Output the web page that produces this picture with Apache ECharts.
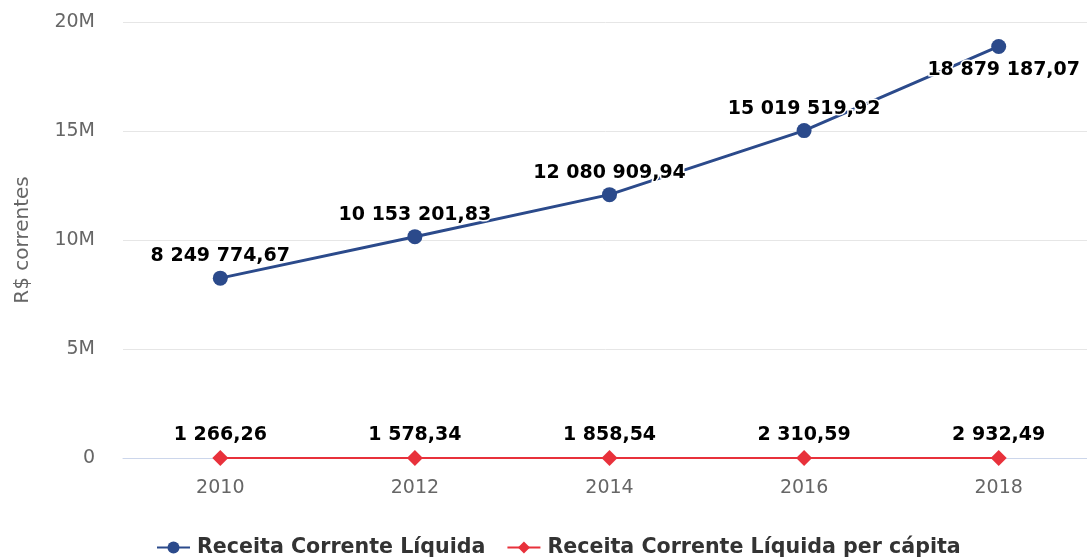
<!DOCTYPE html>
<html>
<head>
<meta charset="utf-8">
<script src="https://cdn.jsdelivr.net/npm/echarts@6/dist/echarts.min.js"></script>
<style>html,body{margin:0;padding:0;background:#fff}#c{width:1087px;height:558px}</style>
</head>
<body>
<div id="c"></div>
<script>
var categories = ['2010', '2012', '2014', '2016', '2018'];
var rclValues = [8249774.67, 10153201.83, 12080909.94, 15019519.92, 18879187.07];
var rclPerCapitaValues = [1266.26, 1578.34, 1858.54, 2310.59, 2932.49];
var seriesNames = ['Receita Corrente Líquida', 'Receita Corrente Líquida per cápita'];
var yTicks = { min: 0, max: 20000000, interval: 5000000 };
var yAxisTitle = 'R$ correntes';

function fmtBR(v) {
  var parts = v.toFixed(2).split('.');
  var intPart = parts[0].replace(/\B(?=(\d{3})+(?!\d))/g, ' ');
  return intPart + ',' + parts[1];
}

var FONT = 'DejaVu Sans';
var labelStyle = {
  show: true,
  position: 'top',
  distance: 5,
  fontFamily: FONT,
  fontWeight: 'bold',
  fontSize: 19,
  color: '#000',
  textBorderColor: '#fff',
  textBorderWidth: 3,
  formatter: function (p) { return fmtBR(p.value); }
};

var rclData = rclValues.map(function (v, i) {
  if (i === rclValues.length - 1) {
    return { value: v, label: { position: 'bottom', distance: 7, offset: [5, 0] } };
  }
  return v;
});

var chart = echarts.init(document.getElementById('c'), null, { renderer: 'canvas' });
chart.setOption({
  animation: false,
  backgroundColor: '#fff',
  grid: { left: 123, top: 22, width: 973, height: 436, outerBoundsMode: 'none', containLabel: false },
  legend: {
    top: 537,
    left: 156,
    padding: 0,
    itemWidth: 33,
    itemHeight: 15,
    itemGap: 21,
    textStyle: { fontFamily: FONT, fontWeight: 'bold', fontSize: 20.6, color: '#333', padding: [0, 0, 0, 2] },
    data: seriesNames
  },
  xAxis: {
    type: 'category',
    data: categories,
    boundaryGap: true,
    axisLine: { lineStyle: { color: '#ccd6eb', width: 1 } },
    axisTick: { show: false },
    axisLabel: { color: '#666', fontFamily: FONT, fontSize: 19, margin: 21 }
  },
  yAxis: {
    type: 'value',
    min: yTicks.min,
    max: yTicks.max,
    interval: yTicks.interval,
    name: yAxisTitle,
    nameLocation: 'middle',
    nameGap: 90,
    nameTextStyle: { color: '#666', fontFamily: FONT, fontSize: 20 },
    axisLine: { show: false },
    axisTick: { show: false },
    splitLine: { lineStyle: { color: '#e6e6e6', width: 1 } },
    axisLabel: {
      color: '#666', fontFamily: FONT, fontSize: 19, margin: 28,
      formatter: function (v) { return v === 0 ? '0' : (v / 1000000) + 'M'; }
    }
  },
  series: [
    {
      name: seriesNames[0],
      type: 'line',
      data: rclData,
      color: '#2b4a8b',
      symbol: 'circle',
      symbolSize: 15,
      lineStyle: { width: 3, color: '#2b4a8b' },
      itemStyle: { color: '#2b4a8b' },
      label: labelStyle,
      z: 3
    },
    {
      name: seriesNames[1],
      type: 'line',
      data: rclPerCapitaValues,
      color: '#e8313b',
      symbol: 'diamond',
      symbolSize: 16,
      lineStyle: { width: 2, color: '#e8313b' },
      itemStyle: { color: '#e8313b' },
      label: labelStyle,
      z: 4
    }
  ]
});
</script>
</body>
</html>
